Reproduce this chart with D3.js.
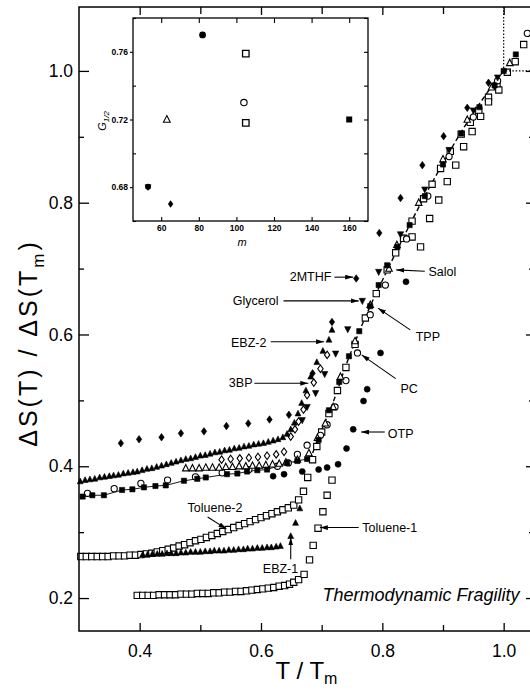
<!DOCTYPE html>
<html><head><meta charset="utf-8">
<script src="https://cdn.jsdelivr.net/npm/d3@7"></script>
<style>
body{margin:0;background:#fff}
svg{display:block}
text{font-family:"Liberation Sans",Arial,Helvetica,sans-serif;fill:#000}
</style>
</head><body>
<svg id="c" width="530" height="690"></svg>
<script>
// ---------------- DATA (T/Tm , ΔS(T)/ΔS(Tm)) ----------------
const xMajorTicks = [0.4, 0.6, 0.8, 1.0];
const xMinorTicks = [0.5, 0.7, 0.9];
const yMajorTicks = [0.2, 0.4, 0.6, 0.8, 1.0];
const yMinorTicks = [0.3, 0.5, 0.7, 0.9];

const mthf2 = [[0.369,0.435],[0.399,0.441],[0.436,0.444],[0.468,0.450],[0.506,0.453],[0.543,0.461],[0.579,0.465],[0.614,0.471],[0.646,0.478],[0.685,0.541],[0.717,0.619],[0.757,0.685],[0.795,0.754],[0.830,0.807],[0.866,0.857],[0.901,0.901],[0.940,0.944],[0.975,0.982]];

const ebz2 = [[0.302,0.377],[0.310,0.379],[0.318,0.380],[0.326,0.381],[0.334,0.383],[0.342,0.384],[0.350,0.385],[0.357,0.386],[0.365,0.387],[0.373,0.389],[0.381,0.390],[0.389,0.391],[0.396,0.392],[0.404,0.394],[0.412,0.396],[0.420,0.397],[0.428,0.399],[0.436,0.401],[0.444,0.403],[0.452,0.405],[0.460,0.407],[0.468,0.409],[0.476,0.411],[0.484,0.412],[0.492,0.414],[0.500,0.416],[0.508,0.417],[0.516,0.419],[0.524,0.421],[0.532,0.422],[0.540,0.424],[0.548,0.425],[0.556,0.427],[0.564,0.428],[0.572,0.430],[0.580,0.431],[0.588,0.433],[0.596,0.434],[0.604,0.435],[0.612,0.437],[0.620,0.439],[0.628,0.441],[0.636,0.444],[0.643,0.449],[0.649,0.456],[0.655,0.466],[0.661,0.480],[0.667,0.496],[0.674,0.515],[0.682,0.536],[0.692,0.558],[0.702,0.575],[0.712,0.592],[0.717,0.607]];

const ebz1 = [[0.405,0.266],[0.413,0.266],[0.421,0.267],[0.429,0.267],[0.437,0.267],[0.445,0.268],[0.452,0.268],[0.460,0.268],[0.468,0.269],[0.476,0.269],[0.484,0.270],[0.492,0.270],[0.500,0.270],[0.508,0.271],[0.516,0.271],[0.523,0.272],[0.531,0.272],[0.539,0.272],[0.547,0.273],[0.555,0.273],[0.563,0.274],[0.571,0.274],[0.578,0.275],[0.586,0.275],[0.594,0.276],[0.602,0.276],[0.610,0.277],[0.617,0.277],[0.625,0.278],[0.632,0.279],[0.649,0.294],[0.657,0.314],[0.664,0.336]];

const toluene2 = [[0.303,0.263],[0.312,0.263],[0.321,0.263],[0.330,0.263],[0.339,0.263],[0.348,0.263],[0.357,0.264],[0.366,0.264],[0.375,0.264],[0.384,0.265],[0.393,0.265],[0.402,0.266],[0.411,0.267],[0.420,0.268],[0.429,0.270],[0.438,0.272],[0.447,0.274],[0.456,0.276],[0.465,0.279],[0.474,0.281],[0.483,0.284],[0.492,0.287],[0.501,0.289],[0.510,0.292],[0.519,0.295],[0.528,0.298],[0.537,0.301],[0.546,0.304],[0.555,0.307],[0.564,0.310],[0.573,0.313],[0.582,0.316],[0.591,0.319],[0.600,0.322],[0.609,0.325],[0.618,0.328],[0.627,0.331],[0.636,0.334],[0.645,0.337],[0.654,0.341],[0.662,0.349],[0.670,0.362],[0.677,0.383],[0.685,0.410],[0.692,0.430],[0.700,0.452],[0.712,0.480],[0.726,0.515],[0.740,0.550],[0.755,0.585],[0.772,0.625],[0.790,0.662],[0.808,0.698],[0.822,0.724],[0.835,0.746],[0.849,0.772],[0.868,0.806],[0.882,0.828],[0.896,0.852],[0.912,0.878],[0.930,0.904],[0.945,0.922],[0.959,0.940],[0.975,0.960],[0.989,0.978],[1.006,0.998],[1.019,1.014],[1.033,1.040]];

const toluene1 = [[0.396,0.204],[0.405,0.204],[0.414,0.204],[0.423,0.204],[0.432,0.205],[0.441,0.205],[0.450,0.205],[0.459,0.205],[0.468,0.206],[0.477,0.206],[0.486,0.206],[0.495,0.207],[0.504,0.207],[0.513,0.207],[0.522,0.208],[0.531,0.208],[0.540,0.209],[0.549,0.209],[0.558,0.210],[0.567,0.210],[0.576,0.211],[0.585,0.212],[0.594,0.213],[0.603,0.214],[0.612,0.215],[0.621,0.216],[0.630,0.218],[0.639,0.219],[0.647,0.221],[0.654,0.224],[0.662,0.228],[0.671,0.236],[0.680,0.258],[0.686,0.280],[0.694,0.306],[0.702,0.331],[0.709,0.356],[0.717,0.379],[0.849,0.748],[0.863,0.733],[0.878,0.776],[0.893,0.804],[0.907,0.832],[0.921,0.857],[0.934,0.885],[0.948,0.908],[0.962,0.931],[0.975,0.953],[0.992,0.971]];

const tppLow = [[0.306,0.354],[0.322,0.356],[0.341,0.356],[0.371,0.364],[0.388,0.365],[0.407,0.368],[0.426,0.370],[0.443,0.371],[0.473,0.378],[0.495,0.381],[0.509,0.383],[0.544,0.388],[0.561,0.389],[0.577,0.392],[0.594,0.394],[0.610,0.395],[0.643,0.405],[0.660,0.408],[0.676,0.411]];
const tppHigh = [[0.695,0.440],[0.712,0.485],[0.729,0.528],[0.745,0.567],[0.762,0.605],[0.780,0.643],[0.794,0.675],[0.808,0.705],[0.825,0.733],[0.845,0.766],[0.870,0.810],[0.900,0.858],[0.930,0.905],[0.960,0.945],[0.985,0.978],[1.000,1.000],[1.020,1.025]];

const pc = [[0.314,0.359],[0.358,0.366],[0.402,0.374],[0.446,0.379],[0.492,0.384],[0.536,0.390],[0.580,0.395],[0.627,0.400],[0.645,0.405],[0.660,0.418],[0.676,0.432],[0.698,0.447],[0.709,0.463],[0.722,0.490],[0.740,0.530],[0.759,0.572],[0.780,0.630],[0.805,0.675],[0.840,0.745],[0.875,0.810],[0.910,0.870],[0.950,0.930],[0.990,0.985],[1.039,1.057]];

const salol = [[0.476,0.397],[0.487,0.397],[0.498,0.397],[0.509,0.398],[0.520,0.398],[0.531,0.398],[0.542,0.399],[0.553,0.399],[0.564,0.400],[0.575,0.400],[0.586,0.401],[0.597,0.401],[0.608,0.402],[0.619,0.403],[0.630,0.404],[0.641,0.406],[0.660,0.410],[0.679,0.420],[0.693,0.443],[0.706,0.465],[0.719,0.490],[0.731,0.536],[0.755,0.590],[0.780,0.645],[0.811,0.700],[0.824,0.736],[0.860,0.800],[0.900,0.866],[0.940,0.926],[0.980,0.975],[1.010,1.012]];

const bp3 = [[0.535,0.410],[0.550,0.411],[0.565,0.412],[0.580,0.413],[0.595,0.414],[0.610,0.416],[0.625,0.418],[0.638,0.422],[0.649,0.445],[0.656,0.456],[0.662,0.468],[0.670,0.486],[0.676,0.508],[0.687,0.527],[0.698,0.548],[0.709,0.569]];

const glycerol = [[0.668,0.470],[0.676,0.490],[0.690,0.511],[0.705,0.540],[0.723,0.571],[0.743,0.608],[0.767,0.651],[0.794,0.695],[0.830,0.752],[0.870,0.820],[0.910,0.880],[0.950,0.940],[0.990,0.990]];

const otp = [[0.620,0.385],[0.638,0.388],[0.668,0.392],[0.695,0.395],[0.709,0.398],[0.727,0.403],[0.741,0.427],[0.752,0.456],[0.769,0.499],[0.775,0.517],[0.797,0.572],[0.839,0.680]];

const liquidCurve = [[0.685,0.420],[0.700,0.455],[0.720,0.500],[0.740,0.553],[0.760,0.600],[0.780,0.643],[0.800,0.682],[0.820,0.720],[0.840,0.757],[0.860,0.793],[0.880,0.827],[0.900,0.860],[0.920,0.892],[0.940,0.922],[0.960,0.950],[0.980,0.976],[1.000,1.000]];

// inset: fragility m vs G1/2
const insetM = [82, 105, 104, 105, 63, 53, 65, 160];
const insetG = [0.770, 0.759, 0.730, 0.718, 0.720, 0.680, 0.670, 0.720];
const insetSymbols = ["circleF","squareO","circleO","squareO","triangleO","heartF","diamondF","squareF"];
const insetXTicks = [60, 80, 100, 120, 140, 160];
const insetYTicks = [0.68, 0.72, 0.76];
const insetYMinor = [0.66, 0.70, 0.74, 0.78];

// annotations [text, x, y, anchor] and arrows [x1,y1,x2,y2] in data units
const labels = [
  ["2MTHF",0.716,0.681,"end"],["Salol",0.876,0.689,"start"],["Glycerol",0.629,0.645,"end"],
  ["TPP",0.855,0.590,"start"],["EBZ-2",0.609,0.581,"end"],["3BP",0.586,0.520,"end"],
  ["PC",0.830,0.511,"start"],["OTP",0.809,0.443,"start"],["Toluene-2",0.479,0.330,"start"],
  ["Toluene-1",0.767,0.300,"start"],["EBZ-1",0.603,0.238,"start"]
];
const arrows = [
  [0.721,0.687,0.752,0.687],[0.870,0.696,0.823,0.698],[0.637,0.651,0.761,0.651],
  [0.846,0.607,0.793,0.640],[0.616,0.589,0.704,0.589],[0.589,0.526,0.678,0.526],
  [0.822,0.533,0.766,0.569],[0.804,0.452,0.765,0.452],[0.512,0.323,0.543,0.305],
  [0.761,0.307,0.697,0.307],[0.649,0.259,0.649,0.292]
];

// ---------------- DRAW ----------------
const svg = d3.select("#c");
const L=79, R=534, T=7, B=631;
const x = d3.scaleLinear().domain([0.3,1.05]).range([L,R]);
const y = d3.scaleLinear().domain([0.15,1.097]).range([B,T]);

svg.append("rect").attr("width",530).attr("height",690).attr("fill","#fff");

const defs = svg.append("defs");
defs.append("marker").attr("id","ah").attr("viewBox","0 0 10 6").attr("refX",10).attr("refY",3)
  .attr("markerWidth",8).attr("markerHeight",5).attr("markerUnits","userSpaceOnUse").attr("orient","auto")
  .append("path").attr("d","M0,0L10,3L0,6Z").attr("fill","#000");

function symPath(type, s){
  const h=s/2;
  switch(type){
    case "square": return `M${-h},${-h}h${s}v${s}h${-s}Z`;
    case "tri": return `M0,${-h*1.2}L${h*1.05},${h*0.85}L${-h*1.05},${h*0.85}Z`;
    case "triD": return `M0,${h*1.2}L${h*1.05},${-h*0.85}L${-h*1.05},${-h*0.85}Z`;
    case "diamond": return `M0,${-h*1.25}L${h*0.9},0L0,${h*1.25}L${-h*0.9},0Z`;
  }
}
function drawSeries(g, data, type, filled, size){
  const sel = g.append("g");
  if(type==="circle"){
    sel.selectAll("circle").data(data).join("circle")
      .attr("cx",d=>x(d[0])).attr("cy",d=>y(d[1])).attr("r",size/2)
      .attr("fill",filled?"#000":"#fff").attr("stroke","#000").attr("stroke-width",filled?0.6:1.1);
  } else {
    sel.selectAll("path").data(data).join("path")
      .attr("transform",d=>`translate(${x(d[0])},${y(d[1])})`).attr("d",symPath(type,size))
      .attr("fill",filled?"#000":"#fff").attr("stroke","#000").attr("stroke-width",filled?0.6:1.1);
  }
}

const plot = svg.append("g");
plot.append("path").datum(liquidCurve).attr("fill","none").attr("stroke","#000").attr("stroke-width",1.4)
  .attr("stroke-dasharray","5,3").attr("d",d3.line().x(d=>x(d[0])).y(d=>y(d[1])).curve(d3.curveMonotoneX));
plot.append("path").datum(tppLow).attr("fill","none").attr("stroke","#000").attr("stroke-width",0.9)
  .attr("d",d3.line().x(d=>x(d[0])).y(d=>y(d[1])));

drawSeries(plot, toluene2, "square", false, 6.3);
drawSeries(plot, toluene1, "square", false, 6.3);
drawSeries(plot, pc, "circle", false, 6.2);
drawSeries(plot, salol, "tri", false, 6.2);
drawSeries(plot, bp3, "diamond", false, 6);
drawSeries(plot, ebz2, "tri", true, 5.6);
drawSeries(plot, ebz1, "tri", true, 5.6);
drawSeries(plot, tppLow, "square", true, 5.2);
drawSeries(plot, tppHigh, "square", true, 5.2);
drawSeries(plot, glycerol, "triD", true, 6);
drawSeries(plot, otp, "circle", true, 6);
drawSeries(plot, mthf2, "diamond", true, 6);

svg.append("path").attr("d",`M${x(1)},${T}V${y(1)}H${R}`).attr("fill","none").attr("stroke","#000")
  .attr("stroke-width",1.2).attr("stroke-dasharray","1.5,1.8");

function ax(gen, tx, ty){ const g=svg.append("g").attr("transform",`translate(${tx},${ty})`).call(gen); g.select(".domain").remove(); g.selectAll("line").attr("stroke-width",1.3); return g;}
const fmt = d3.format(".1f");
ax(d3.axisLeft(y).tickValues(yMajorTicks).tickSize(-10).tickPadding(6).tickFormat(fmt),L,0)
  .selectAll("text").attr("font-size",17.5).attr("font-family","Liberation Sans, Arial, sans-serif");
ax(d3.axisLeft(y).tickValues(yMinorTicks).tickSize(-5).tickFormat(""),L,0);
ax(d3.axisRight(y).tickValues(yMajorTicks).tickSize(-8).tickFormat(""),R,0);
ax(d3.axisRight(y).tickValues(yMinorTicks).tickSize(-5).tickFormat(""),R,0);
ax(d3.axisBottom(x).tickValues(xMajorTicks).tickSize(-8).tickPadding(14).tickFormat(fmt),0,B)
  .selectAll("text").attr("font-size",17.5).attr("font-family","Liberation Sans, Arial, sans-serif");
ax(d3.axisBottom(x).tickValues(xMinorTicks).tickSize(-6).tickFormat(""),0,B);
ax(d3.axisTop(x).tickValues(xMajorTicks).tickSize(-8).tickFormat(""),0,T);
ax(d3.axisTop(x).tickValues(xMinorTicks).tickSize(-7).tickFormat(""),0,T);
svg.append("path").attr("d",`M${R},${T}H${L}V${B}H${R}`).attr("fill","none").attr("stroke","#000").attr("stroke-width",1.5);

// axis titles
const xt = svg.append("text").attr("x",(L+R)/2).attr("y",679).attr("text-anchor","middle").attr("font-size",24);
xt.append("tspan").text("T / T");
xt.append("tspan").attr("font-size",16).attr("dy",5).text("m");
const yt = svg.append("text").attr("transform","translate(37,343) rotate(-90)").attr("text-anchor","middle")
  .attr("font-size",25).attr("letter-spacing",3);
yt.append("tspan").text("ΔS(T) / ΔS(T");
yt.append("tspan").attr("font-size",17).attr("dy",7).text("m");
yt.append("tspan").attr("dy",-7).text(")");

// annotations
const ann = svg.append("g");
labels.forEach(l=>{
  ann.append("text").attr("x",x(l[1])).attr("y",y(l[2])).attr("text-anchor",l[3]).attr("font-size",12.5).text(l[0]);
});
arrows.forEach(a=>{
  ann.append("line").attr("x1",x(a[0])).attr("y1",y(a[1])).attr("x2",x(a[2])).attr("y2",y(a[3]))
    .attr("stroke","#000").attr("stroke-width",1.1).attr("marker-end","url(#ah)");
});
svg.append("text").attr("x",x(0.7015)).attr("y",y(0.196)).attr("font-size",18).attr("font-style","italic")
  .text("Thermodynamic Fragility");

// ---------------- INSET ----------------
const iL=133, iR=368, iT=18, iB=221;
const xi = d3.scaleLinear().domain([45,170]).range([iL,iR]);
const yi = d3.scaleLinear().domain([0.66,0.78]).range([iB,iT]);
const ins = svg.append("g");
ins.append("rect").attr("x",iL).attr("y",iT).attr("width",iR-iL).attr("height",iB-iT).attr("fill","#fff");
function iax(gen,tx,ty){ const g=ins.append("g").attr("transform",`translate(${tx},${ty})`).call(gen); g.select(".domain").remove(); g.selectAll("line").attr("stroke-width",1.1); return g;}
const f2 = d3.format(".2f");
iax(d3.axisLeft(yi).tickValues(insetYTicks).tickSize(3).tickPadding(2).tickFormat(f2),iL,0)
  .selectAll("text").attr("font-size",8.5).attr("font-weight","bold");
iax(d3.axisLeft(yi).tickValues(insetYMinor).tickSize(-3).tickFormat(""),iL,0);
iax(d3.axisRight(yi).tickValues(insetYTicks.concat(insetYMinor)).tickSize(-4).tickFormat(""),iR,0);
iax(d3.axisBottom(xi).tickValues(insetXTicks).tickSize(-4).tickPadding(4).tickFormat(d3.format("d")),0,iB)
  .selectAll("text").attr("font-size",8.5).attr("font-weight","bold");
iax(d3.axisTop(xi).tickValues(insetXTicks).tickSize(-5).tickFormat(""),0,iT);
ins.append("rect").attr("x",iL).attr("y",iT).attr("width",iR-iL).attr("height",iB-iT).attr("fill","none")
  .attr("stroke","#000").attr("stroke-width",1.3);
const insetPts = insetM.map((m,i)=>({m, g:insetG[i], s:insetSymbols[i]}));
insetPts.forEach(p=>{
  const gp = ins.append("g").attr("transform",`translate(${xi(p.m)},${yi(p.g)})`);
  if(p.s==="circleF") gp.append("circle").attr("r",3.4).attr("fill","#000");
  if(p.s==="circleO") gp.append("circle").attr("r",3.2).attr("fill","#fff").attr("stroke","#000").attr("stroke-width",1.1);
  if(p.s==="squareO") gp.append("path").attr("d",symPath("square",6.5)).attr("fill","#fff").attr("stroke","#000").attr("stroke-width",1.3);
  if(p.s==="squareF") gp.append("path").attr("d",symPath("square",6)).attr("fill","#000");
  if(p.s==="triangleO") gp.append("path").attr("d",symPath("tri",6.5)).attr("fill","#fff").attr("stroke","#000").attr("stroke-width",1.1);
  if(p.s==="diamondF") gp.append("path").attr("d",symPath("diamond",6)).attr("fill","#000");
  if(p.s==="heartF"){ gp.append("path").attr("d",symPath("triD",6.5)).attr("fill","#000"); gp.append("circle").attr("cy",-0.5).attr("r",3).attr("fill","#000"); }
});
const gl = ins.append("text").attr("transform","translate(106,121) rotate(-90)").attr("text-anchor","middle")
  .attr("font-size",11).attr("font-style","italic");
gl.append("tspan").text("G");
gl.append("tspan").attr("font-size",8).attr("dy",3).text("1/2");
ins.append("text").attr("x",xi(103)).attr("y",246).attr("text-anchor","middle").attr("font-size",11).attr("font-style","italic").text("m");
</script>
</body></html>
